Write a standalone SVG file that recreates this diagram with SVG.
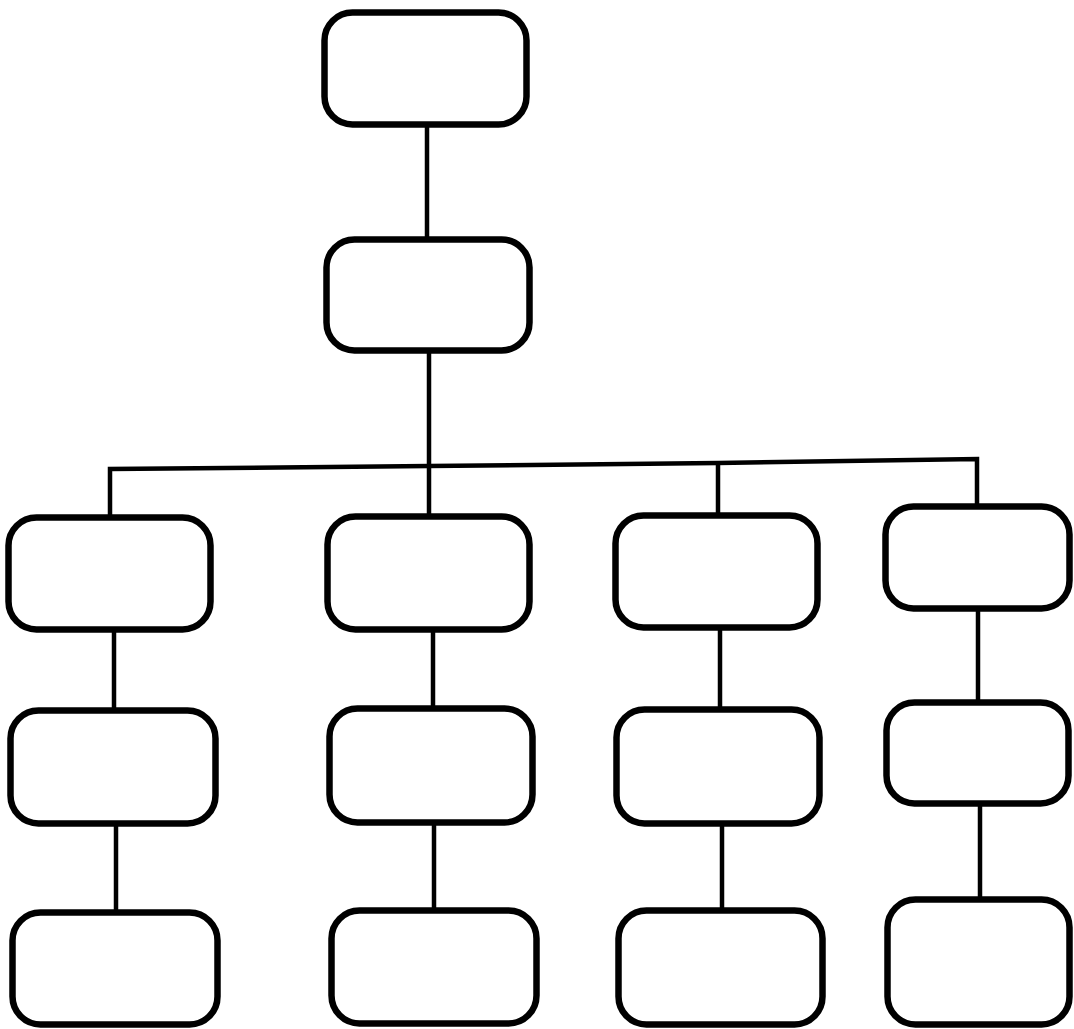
<svg xmlns="http://www.w3.org/2000/svg" width="1074" height="1029" viewBox="0 0 1074 1029">
<style>
.n{fill:#fff;stroke:#000;stroke-width:6.5}
.c{fill:none;stroke:#000;stroke-width:4.5;stroke-linejoin:miter}
</style>
<rect width="1074" height="1029" fill="#fff"/>
<g id="connectors">
<line class="c" x1="427" y1="126" x2="427" y2="238"/>
<line class="c" x1="429" y1="352" x2="429" y2="467"/>
<polyline class="c" points="110,516 110,469 429,466 718,463 977,459 977,505"/>
<line class="c" x1="429" y1="466" x2="429" y2="515"/>
<line class="c" x1="718" y1="463" x2="718" y2="514"/>
<line class="c" x1="114" y1="631" x2="114" y2="709"/>
<line class="c" x1="433" y1="631" x2="433" y2="707"/>
<line class="c" x1="720" y1="629" x2="720" y2="708"/>
<line class="c" x1="978" y1="610" x2="978" y2="701"/>
<line class="c" x1="116" y1="825" x2="116" y2="911"/>
<line class="c" x1="434" y1="824" x2="434" y2="909"/>
<line class="c" x1="722" y1="825" x2="722" y2="909"/>
<line class="c" x1="980" y1="805" x2="980" y2="898"/>
</g>
<g id="n0"><rect class="n" x="324.5" y="12.5" width="202" height="112" rx="28"/></g>
<g id="n1"><rect class="n" x="326.5" y="239.5" width="203" height="111" rx="28"/></g>
<g id="r1c1"><rect class="n" x="8.5" y="517.5" width="202" height="112" rx="28"/></g>
<g id="r1c2"><rect class="n" x="327.5" y="516.5" width="202" height="113" rx="28"/></g>
<g id="r1c3"><rect class="n" x="615.5" y="515.5" width="202" height="112" rx="28"/></g>
<g id="r1c4"><rect class="n" x="885.5" y="506.5" width="184" height="102" rx="28"/></g>
<g id="r2c1"><rect class="n" x="10.5" y="710.5" width="205" height="113" rx="28"/></g>
<g id="r2c2"><rect class="n" x="329.5" y="708.5" width="203" height="114" rx="28"/></g>
<g id="r2c3"><rect class="n" x="616.5" y="709.5" width="203" height="114" rx="28"/></g>
<g id="r2c4"><rect class="n" x="886.5" y="702.5" width="182" height="101" rx="28"/></g>
<g id="r3c1"><rect class="n" x="12.5" y="912.5" width="205" height="112" rx="28"/></g>
<g id="r3c2"><rect class="n" x="331.5" y="910.5" width="205" height="113" rx="28"/></g>
<g id="r3c3"><rect class="n" x="618.5" y="910.5" width="204" height="114" rx="28"/></g>
<g id="r3c4"><rect class="n" x="887.5" y="899.5" width="182" height="125" rx="28"/></g>
</svg>
